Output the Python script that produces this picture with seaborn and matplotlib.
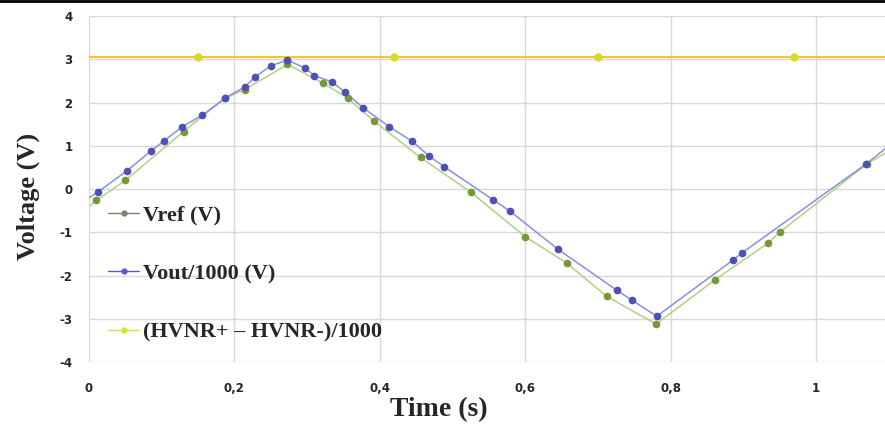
import matplotlib
matplotlib.use("Agg")
import matplotlib.pyplot as plt
from matplotlib.lines import Line2D
import seaborn as sns

# --- data ---
vref_t = [0.0, 0.010, 0.050, 0.130, 0.187, 0.214, 0.273, 0.322, 0.356, 0.392,
          0.456, 0.525, 0.600, 0.657, 0.712, 0.780, 0.861, 0.934, 0.950, 1.070, 1.110]
vref_v = [-0.40, -0.26, 0.20, 1.33, 2.10, 2.30, 2.88, 2.45, 2.10, 1.57,
          0.73, -0.07, -1.10, -1.71, -2.48, -3.12, -2.10, -1.25, -1.00, 0.58, 0.98]

vout_t = [0.0, 0.012, 0.052, 0.085, 0.103, 0.128, 0.156, 0.187, 0.214, 0.229,
          0.250, 0.273, 0.297, 0.310, 0.334, 0.352, 0.377, 0.413, 0.444, 0.468,
          0.489, 0.556, 0.579, 0.645, 0.726, 0.747, 0.781, 0.886, 0.898, 1.069, 1.110]
vout_v = [-0.20, -0.07, 0.42, 0.88, 1.11, 1.44, 1.71, 2.10, 2.36, 2.60,
          2.85, 2.98, 2.80, 2.62, 2.48, 2.24, 1.88, 1.44, 1.11, 0.76,
          0.51, -0.25, -0.51, -1.39, -2.34, -2.57, -2.94, -1.64, -1.48, 0.58, 1.13]

hvnr_t = [0.0, 0.15, 0.42, 0.70, 0.97, 1.11]
hvnr_v = [3.05, 3.05, 3.05, 3.05, 3.05, 3.05]

labels = ["Vref (V)", "Vout/1000 (V)", "(HVNR+ \u2013 HVNR-)/1000"]

sns.set_style("white")
plt.rcParams["font.family"] = ["DejaVu Sans"]

fig = plt.figure(figsize=(8.85, 4.26), dpi=100)
ax = fig.add_axes([0.1006, 0.150, 0.8994, 0.8124])

# yellow threshold line (markers only where sampled)
sns.lineplot(x=hvnr_t, y=hvnr_v, ax=ax, color="#FFC000", linewidth=1.3, sort=False)
ax.plot(hvnr_t[1:-1], hvnr_v[1:-1], "o", color="#D2DE1E", markersize=5, zorder=3)

sns.lineplot(x=vref_t, y=vref_v, ax=ax, color="#B3CF86", linewidth=1.1, sort=False)
ax.plot(vref_t[1:-1], vref_v[1:-1], "o", color="#779838", markersize=4.5, zorder=3)

sns.lineplot(x=vout_t, y=vout_v, ax=ax, color="#8A8FE0", linewidth=1.1, sort=False)
ax.plot(vout_t[1:-1], vout_v[1:-1], "o", color="#4E51B3", markersize=4.5, zorder=4)

ax.set_xlim(0, 1.095)
ax.set_ylim(-4, 4)
ax.set_xticks([0, 0.2, 0.4, 0.6, 0.8, 1.0])
ax.set_xticklabels(["0", "0,2", "0,4", "0,6", "0,8", "1"])
ax.set_yticks(range(-4, 5))
ax.set_yticklabels([str(v) for v in range(-4, 5)])
ax.tick_params(axis="both", length=0, labelsize=8.5)
ax.tick_params(axis="x", pad=14)
ax.tick_params(axis="y", pad=12)
for lab in ax.get_xticklabels() + ax.get_yticklabels():
    lab.set_fontweight("bold")

ax.grid(True, color="#D9D9D9", linewidth=1)
for sp in ax.spines.values():
    sp.set_visible(False)

serif = ["Liberation Serif", "DejaVu Serif"]
ax.set_xlabel("Time (s)", fontsize=20, fontweight="bold", family=serif)
ax.xaxis.set_label_coords(0.44, -0.10)
fig.text(0.032, 0.54, "Voltage (V)", rotation=90, fontsize=19, fontweight="bold",
         family=serif, ha="center", va="center")

handles = [
    Line2D([], [], color="#7F8070", marker="o", markersize=3.5, linewidth=1.0),
    Line2D([], [], color="#5A5CC0", marker="o", markersize=3.5, linewidth=1.0),
    Line2D([], [], color="#D4E43A", marker="o", markersize=3.5, linewidth=1.0),
]
leg = ax.legend(handles, labels, loc="center left", bbox_to_anchor=(0.024, 0.255),
                frameon=False, handlelength=1.4, handletextpad=0.15, labelspacing=1.7,
                borderaxespad=0, borderpad=0,
                prop={"family": serif, "weight": "bold", "size": 16})

# thin black rule along the top edge of the figure
fig.add_artist(Line2D([0, 1], [0.998, 0.998], transform=fig.transFigure,
                      color="black", linewidth=2))

fig.savefig("out.png", dpi=100)
